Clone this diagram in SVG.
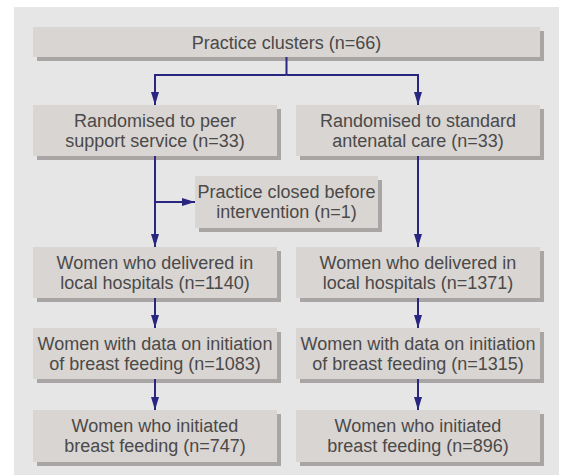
<svg xmlns="http://www.w3.org/2000/svg" width="563" height="475" viewBox="0 0 563 475">
<defs>
<style>
.box{fill:#d8d5d2}
.sh{fill:#a9a5a4}
.t{font-family:"Liberation Sans",Arial,sans-serif;font-size:18px;fill:#4b4949;text-anchor:middle}
.c{fill:none;stroke:#28267f;stroke-width:2}
</style>
<marker id="ah" viewBox="0 0 13 8" refX="13" refY="4" markerWidth="13" markerHeight="8" markerUnits="userSpaceOnUse" orient="auto">
<path d="M0,0 L13,4 L0,8 z" fill="#28267f"/>
</marker>
</defs>
<rect x="0" y="0" width="563" height="475" fill="#ffffff"/>
<rect x="14" y="7" width="545" height="468" fill="#e6e6e6"/>

<g id="n1">
<rect class="sh" x="37" y="31" width="507" height="30"/>
<rect class="box" x="33" y="27" width="507" height="30"/>
<text class="t" x="286.5" y="48.5">Practice clusters (n=66)</text>
</g>
<g id="n2">
<rect class="sh" x="37" y="109" width="244" height="51"/>
<rect class="box" x="33" y="105" width="244" height="51"/>
<text class="t" x="155" y="127">Randomised to peer</text>
<text class="t" x="155" y="147">support service (n=33)</text>
</g>
<g id="n3">
<rect class="sh" x="300" y="109" width="244" height="51"/>
<rect class="box" x="296" y="105" width="244" height="51"/>
<text class="t" x="418" y="127">Randomised to standard</text>
<text class="t" x="418" y="147">antenatal care (n=33)</text>
</g>
<g id="n4">
<rect class="sh" x="199" y="180" width="183" height="52"/>
<rect class="box" x="195" y="176" width="183" height="52"/>
<text class="t" x="286.5" y="198">Practice closed before</text>
<text class="t" x="286.5" y="218">intervention (n=1)</text>
</g>
<g id="n5">
<rect class="sh" x="37" y="251" width="244" height="51"/>
<rect class="box" x="33" y="247" width="244" height="51"/>
<text class="t" x="155" y="269">Women who delivered in</text>
<text class="t" x="155" y="289">local hospitals (n=1140)</text>
</g>
<g id="n6">
<rect class="sh" x="300" y="251" width="244" height="51"/>
<rect class="box" x="296" y="247" width="244" height="51"/>
<text class="t" x="418" y="269">Women who delivered in</text>
<text class="t" x="418" y="289">local hospitals (n=1371)</text>
</g>
<g id="n7">
<rect class="sh" x="37" y="332" width="244" height="51"/>
<rect class="box" x="33" y="328" width="244" height="51"/>
<text class="t" x="155" y="350">Women with data on initiation</text>
<text class="t" x="155" y="370">of breast feeding (n=1083)</text>
</g>
<g id="n8">
<rect class="sh" x="300" y="332" width="244" height="51"/>
<rect class="box" x="296" y="328" width="244" height="51"/>
<text class="t" x="418" y="350">Women with data on initiation</text>
<text class="t" x="418" y="370">of breast feeding (n=1315)</text>
</g>
<g id="n9">
<rect class="sh" x="37" y="414" width="244" height="52"/>
<rect class="box" x="33" y="410" width="244" height="52"/>
<text class="t" x="155" y="432">Women who initiated</text>
<text class="t" x="155" y="452">breast feeding (n=747)</text>
</g>
<g id="n10">
<rect class="sh" x="300" y="414" width="244" height="52"/>
<rect class="box" x="296" y="410" width="244" height="52"/>
<text class="t" x="418" y="432">Women who initiated</text>
<text class="t" x="418" y="452">breast feeding (n=896)</text>
</g>

<g id="connectors">
<path class="c" d="M286.5,57 V75"/>
<path class="c" d="M286.5,75 H155 V105" marker-end="url(#ah)"/>
<path class="c" d="M286.5,75 H418 V105" marker-end="url(#ah)"/>
<path class="c" d="M155,156 V247" marker-end="url(#ah)"/>
<path class="c" d="M155,202 H195" marker-end="url(#ah)"/>
<path class="c" d="M418,156 V247" marker-end="url(#ah)"/>
<path class="c" d="M155,298 V328" marker-end="url(#ah)"/>
<path class="c" d="M418,298 V328" marker-end="url(#ah)"/>
<path class="c" d="M155,379 V410" marker-end="url(#ah)"/>
<path class="c" d="M418,379 V410" marker-end="url(#ah)"/>
</g>
</svg>
